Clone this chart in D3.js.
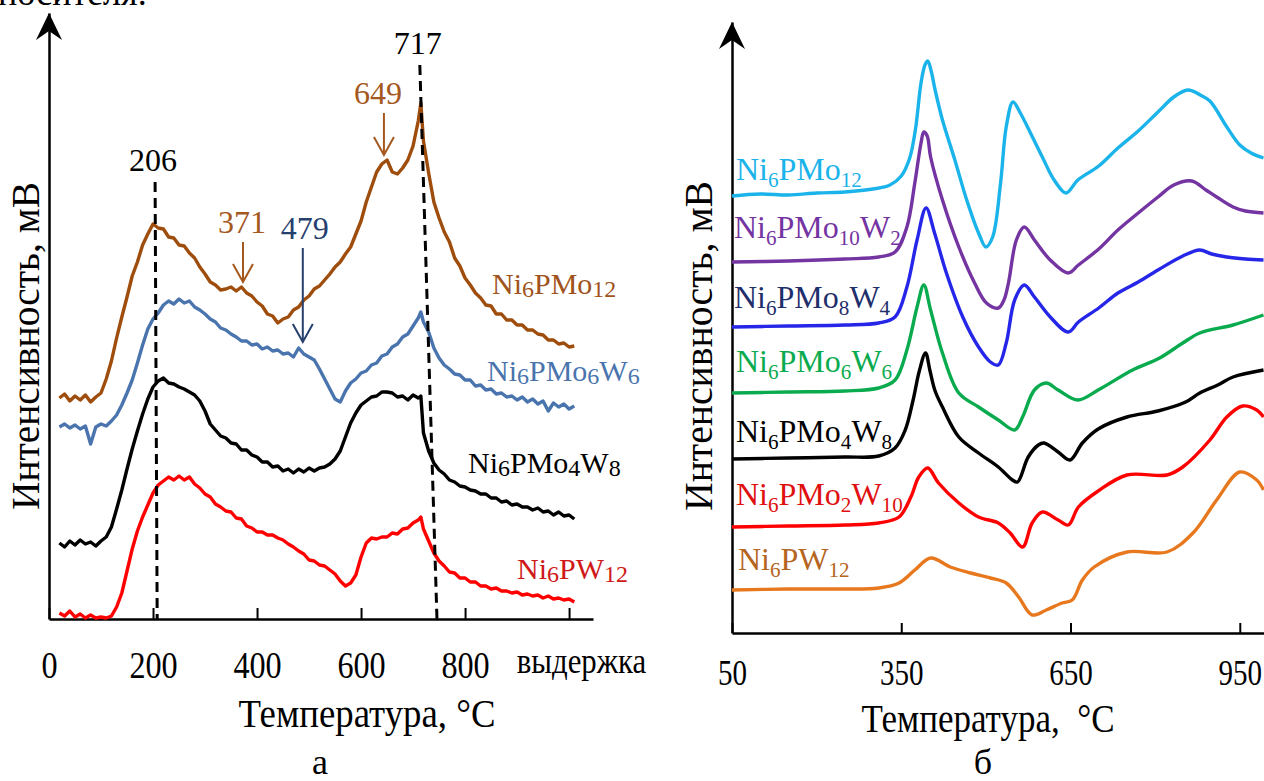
<!DOCTYPE html>
<html>
<head>
<meta charset="utf-8">
<script src="https://cdn.jsdelivr.net/npm/d3@7"></script>
<style>
  html, body { margin: 0; padding: 0; background: #fff; overflow: hidden; }
</style>
</head>
<body>
<div id="chart"></div>
<script>
'use strict';

// ------------ DATA: PANEL A (TPR, noisy curves) ---------------- //

const tempA = [20,30,40,50,60,70,80,90,100,110,120,130,140,150,160,170,180,190,200,210,
    220,230,240,250,260,270,280,290,300,310,320,330,340,350,360,370,380,390,400,410,
    420,430,440,450,460,470,480,490,500,510,520,530,540,550,560,570,580,590,600,610,
    620,630,640,650,660,670,680,690,700,710,715,720,730,740,750,760,770,780,790,800,810,
    820,830,840,850,860,870,880,890,900,910,920,930,940,950,960,970,980,990,1000,1010];

const mo12A = [221,225,218,223,219,224,217,222,226,240, 258,281,302,322,343,357,374,385,395,391,
    390,382,381,374,373,366,361,352,345,337, 334,329,330,332,328,332,326,323,317,313,
    305,303,296,300,302,309,312,319,323,330, 333,339,345,352,357,365,372,385,398,417,
    432,447,455,459,447,445,451,459,473,498, 516,
    478,446,417,401,387,377,361,353,341,334, 326,321,314,313,305,305,299,299,294,294,
    289,289,285,284,279,279,275,276,272,273];

const mo6w6A = [192,195,191,194,190,193,175,192,195,193, 198,204,214,226,239,256,274,290,300,306,
    314,318,315,320,316,318,312,309,305,300, 297,291,289,285,282,278,278,274,275,270,
    272,268,269,265,266,262,271,265,262,259, 250,240,230,220,217,228,236,240,246,248,
    254,256,263,265,272,275,282,285,293,301, 307,
    297,287,271,261,254,250,245,244,239,239, 233,234,229,230,225,226,222,223,219,222,
    217,220,215,218,208,216,212,215,210,213];

const mo4w8A = [76,72,78,74,79,75,77,73,78,82, 92,110,129,150,170,188,205,220,232,238,
    241,236,235,232,230,227,224,218,208,195, 189,183,181,176,175,169,169,164,162,157,
    157,152,153,148,150,146,150,147,151,148, 151,152,155,160,168,182,196,206,214,218,
    222,223,227,227,226,222,223,219,224,221, 223,
    186,168,156,149,145,139,137,133,132,129, 128,125,125,121,121,117,118,114,115,112,
    112,109,111,107,108,104,107,103,104,100];

const w12A = [6,3,8,2,5,1,4,1,2,1, 3,12,26,48,70,88,102,114,126,134,
    138,142,139,143,139,142,135,131,125,122, 115,112,108,107,101,100,93,91,87,87,
    84,84,81,79,75,72,68,65,59,58, 54,53,49,45,38,33,36,44,62,76,
    81,80,82,82,86,85,90,91,96,99, 102,
    90,78,66,58,53,47,46,41,41,37, 37,33,33,30,31,28,28,26,27,24,
    25,23,24,21,23,20,21,19,20,17];

const seriesA  = [mo12A, mo6w6A, mo4w8A, w12A];
const namesA   = ['Ni6PMo12', 'Ni6PMo6W6', 'Ni6PMo4W8', 'Ni6PW12'];
const ticksA   = [0, 200, 400, 600, 800, 1000];
const tickTxtA = ['0', '200', '400', '600', '800', 'выдержка'];

// dashed guide lines: label, temp at top, temp at axis, value at top
const guidesA  = [['206', 204, 208, 437], ['717', 713, 746, 554]];
// arrows: label, temp, value of tail, value of tip
const arrowsA  = [['371', 373, 377, 337], ['479', 488, 371, 277], ['649', 644, 506, 464]];

// ------------ DATA: PANEL B (smooth curves) ---------------- //

const mo12B = [[50,437],[100,439],[150,438],[200,440],[250,441],[300,444],[330,448],[350,457],
    [365,475],[375,503],[385,550],[392,568],[397,572],[403,562],[410,543],[423,513],[445,473],
    [466,433],[487,400],[500,386],[512,396],[526,450],[536,506],[548,531],[561,520],[579,500],
    [600,476],[621,453],[642,440],[663,453],[700,467],[734,485],[770,502],[805,521],[833,536],
    [858,543],[880,538],[897,532],[927,506],[950,488],[970,480],[992,475]];

const mo10w2B = [[50,371],[150,372],[250,374],[310,376],[339,381],[360,406],[374,450],[385,490],
    [390,501],[396,497],[402,476],[423,433],[452,386],[480,350],[501,330],[522,325],[532,333],
    [540,350],[554,393],[568,406],[586,393],[614,373],[646,360],[664,368],[700,384],[734,403],
    [770,420],[805,436],[833,448],[865,452],[890,443],[909,436],[938,426],[960,422],[992,420]];

const mo8w4B = [[50,306],[150,307],[250,308],[310,310],[339,316],[360,346],[378,393],[394,425],
    [409,400],[430,360],[459,316],[487,286],[508,271],[522,268],[536,290],[551,333],[568,348],
    [586,336],[614,316],[646,301],[664,311],[700,325],[734,340],[770,351],[805,363],[849,377],
    [879,383],[900,379],[927,376],[960,374],[992,373]];

const mo6w6B = [[50,240],[150,241],[250,242],[310,245],[339,253],[360,283],[378,326],[390,348],
    [402,323],[423,280],[452,240],[487,226],[522,213],[551,203],[565,216],[586,243],[607,250],
    [628,243],[663,233],[699,243],[760,263],[808,275],[849,290],[879,300],[938,308],[992,318]];

const mo4w8B = [[50,174],[150,175],[250,176],[310,177],[339,185],[357,203],[371,233],[382,262],
    [393,280],[401,262],[410,242],[423,226],[452,196],[487,180],[522,166],[547,153],[556,151],
    [575,176],[593,188],[603,190],[628,181],[649,173],[671,190],[699,204],[750,216],[805,222],
    [854,231],[879,240],[911,248],[938,256],[992,263]];

const mo2w10B = [[50,106],[150,107],[250,108],[310,110],[346,116],[367,136],[381,156],[397,165],
    [416,150],[452,130],[487,116],[522,110],[543,100],[565,86],[582,110],[600,121],[628,113],
    [646,108],[664,126],[699,142],[750,158],[821,158],[849,166],[897,193],[927,216],[955,227],
    [980,223],[992,216]];

const w12B = [[50,43],[150,44],[250,44],[310,45],[346,50],[374,63],[402,75],[437,66],[473,60],
    [508,55],[536,50],[558,36],[582,18],[607,23],[635,30],[653,33],[671,53],[692,66],[750,81],
    [821,81],[867,100],[909,133],[950,161],[980,153],[992,143]];

const seriesB = [mo12B, mo10w2B, mo8w4B, mo6w6B, mo4w8B, mo2w10B, w12B];
const namesB  = ['Ni6PMo12', 'Ni6PMo10W2', 'Ni6PMo8W4', 'Ni6PMo6W6', 'Ni6PMo4W8', 'Ni6PMo2W10', 'Ni6PW12'];
const ticksB  = [50, 350, 650, 950];

// ------------ STYLES ---------------- //

const FONT = '"Liberation Serif", "Times New Roman", serif';

const lineColA  = ['#9e4d0d', '#4a74ad', '#000000', '#ff0000'];
const labColA   = ['#a0531c', '#4a74ad', '#000000', '#d01818'];
const labPosA   = [[492, 294], [487, 381], [468, 473], [517, 579]];
const arrowColA = ['#a5581e', '#26406e', '#a5581e'];
const arrowDxA  = [-1, 2, -6];

const lineColB = ['#1ab3ea', '#7434a2', '#2626e8', '#0aab4e', '#000000', '#ff0000', '#e8781e'];
const labColB  = ['#1ab3ea', '#7434a2', '#1f2f6b', '#0aab4e', '#000000', '#e01010', '#b5651d'];
const labPosB  = [[736, 180], [734, 238], [734, 308], [736, 372], [736, 442], [736, 505], [738, 570]];

// ------------ HELPERS ---------------- //

// formula text where every digit group is a subscript
const addFormula = (g, text, x, y, o) => {
    const t = g.append('text')
        .attr('x', x).attr('y', y)
        .attr('font-family', FONT)
        .attr('font-size', o.size)
        .attr('fill', o.color);
    let shifted = 0;
    text.split(/(\d+)/).filter(s => s).forEach(part => {
        const isSub = /\d/.test(part);
        const want  = isSub ? o.size * o.shift : 0;
        t.append('tspan')
            .attr('dy', want - shifted)
            .attr('font-size', isSub ? o.size * o.sub : o.size)
            .text(part);
        shifted = want;
    });
};

const arrowHead = (g, x, top) => {
    g.append('path')
        .attr('d', `M${x},${top} L${x - 13},${top + 27} L${x},${top + 18} L${x + 13},${top + 27} Z`)
        .attr('fill', '#000');
};

const drawAxes = (svg, x, y, ticks, fmt, o) => {
    svg.append('g')
        .attr('transform', `translate(${x.range()[0]},0)`)
        .call(d3.axisLeft(y).tickValues([]).tickSizeOuter(0))
        .select('.domain').attr('stroke-width', 2.5);

    const gx = svg.append('g')
        .attr('transform', `translate(0,${y.range()[0]})`)
        .call(d3.axisBottom(x).tickValues(ticks).tickFormat(fmt).tickSizeInner(-o.tick).tickSizeOuter(0));
    gx.select('.domain').attr('stroke-width', 2.5);
    gx.selectAll('.tick line').attr('stroke-width', 2);
    gx.selectAll('.tick text')
        .attr('font-family', FONT)
        .attr('font-size', o.size)
        .attr('fill', '#000')
        .attr('y', o.base)
        .attr('dy', 0)
        .attr('transform', `scale(${o.sx},1)`);

    arrowHead(svg, x.range()[0], y.range()[1]);
    return gx;
};

const addText = (svg, str, x, y, o) => svg.append('text')
    .attr('x', x).attr('y', y)
    .attr('font-family', FONT)
    .attr('font-size', o.size)
    .attr('fill', o.color || '#000')
    .attr('text-anchor', o.anchor || 'middle')
    .text(str);

const addYTitle = (svg, x, yMid, len) => svg.append('text')
    .attr('transform', `translate(${x},${yMid}) rotate(-90)`)
    .attr('font-family', FONT).attr('font-size', 39)
    .attr('text-anchor', 'middle')
    .attr('textLength', len).attr('lengthAdjust', 'spacingAndGlyphs')
    .text('Интенсивность, мВ');

// ------------ DRAWING ---------------- //

const drawChart = () => {
    const svg = d3.select('#chart')
        .append('svg')
        .attr('width', 1264)
        .attr('height', 781)
        .attr('id', 'svg');

    // cut-off line of text above the figure
    addText(svg, 'носителя.', -2, 5, {size: 36, anchor: 'start'});

    // ----- panel a -----
    const xA = d3.scaleLinear().domain([0, 1046]).range([49, 593]);
    const yA = d3.scaleLinear().domain([0, 606]).range([619, 13]);

    const gxA = drawAxes(svg, xA, yA, ticksA, (d, i) => tickTxtA[i], {tick: 11, size: 37, base: 59, sx: 0.87});
    gxA.selectAll('.tick text')
        .filter(d => d === 1000)
        .attr('text-anchor', 'start')
        .attr('font-size', 35)
        .attr('x', -60)
        .attr('y', 54)
        .attr('transform', 'scale(0.88,1)');

    const lineA = d3.line()
        .x((d, i) => xA(tempA[i]))
        .y(d => yA(d))
        .curve(d3.curveLinear);

    svg.append('g').selectAll('path')
        .data(seriesA)
        .join('path')
        .attr('d', lineA)
        .attr('fill', 'none')
        .attr('stroke', (d, i) => lineColA[i])
        .attr('stroke-width', 3.4)
        .attr('stroke-linejoin', 'round');

    guidesA.forEach(([lab, t0, t1, v]) => {
        svg.append('line')
            .attr('x1', xA(t0)).attr('y1', yA(v))
            .attr('x2', xA(t1)).attr('y2', yA(0))
            .attr('stroke', '#000')
            .attr('stroke-width', 3)
            .attr('stroke-dasharray', '10,6');
        addText(svg, lab, xA(t0) - 2, yA(v) - 11, {size: 32});
    });

    arrowsA.forEach(([lab, t, v0, v1], i) => {
        const x = xA(t);
        const g = svg.append('g')
            .attr('stroke', arrowColA[i])
            .attr('stroke-width', 2)
            .attr('fill', 'none');
        g.append('line').attr('x1', x).attr('y1', yA(v0)).attr('x2', x).attr('y2', yA(v1));
        g.append('path').attr('d', `M${x - 10},${yA(v1) - 18} L${x},${yA(v1)} L${x + 10},${yA(v1) - 18}`);
        addText(svg, lab, x + arrowDxA[i], yA(v0) - 9, {size: 32, color: arrowColA[i]});
    });

    namesA.forEach((name, i) => addFormula(svg, name, labPosA[i][0], labPosA[i][1],
        {size: 30, sub: 0.8, shift: 0.1, color: labColA[i]}));

    addYTitle(svg, 39, 346, 328);
    addText(svg, 'Температура, °С', 367, 727, {size: 40})
        .attr('textLength', 257).attr('lengthAdjust', 'spacingAndGlyphs');
    addText(svg, 'а', 320, 774, {size: 36});

    // ----- panel b -----
    const xB = d3.scaleLinear().domain([50, 1000]).range([732, 1268]);
    const yB = d3.scaleLinear().domain([0, 611]).range([633, 22]);

    drawAxes(svg, xB, yB, ticksB, d3.format('d'), {tick: 10, size: 35, base: 52, sx: 0.83});

    const lineB = d3.line()
        .x(d => xB(d[0]))
        .y(d => yB(d[1]))
        .curve(d3.curveCatmullRom.alpha(0.5));

    svg.append('g').selectAll('path')
        .data(seriesB)
        .join('path')
        .attr('d', lineB)
        .attr('fill', 'none')
        .attr('stroke', (d, i) => lineColB[i])
        .attr('stroke-width', 3.4)
        .attr('stroke-linejoin', 'round');

    namesB.forEach((name, i) => addFormula(svg, name, labPosB[i][0], labPosB[i][1],
        {size: 32, sub: 0.66, shift: 0.22, color: labColB[i]}));

    addYTitle(svg, 712, 346, 330);
    addText(svg, 'Температура,\u00A0 °С', 988, 732, {size: 40})
        .attr('textLength', 253).attr('lengthAdjust', 'spacingAndGlyphs');
    addText(svg, 'б', 983, 774, {size: 36});
};

// --------------------   MAIN   ------------------- //

document.addEventListener('DOMContentLoaded', drawChart);
</script>
</body>
</html>
